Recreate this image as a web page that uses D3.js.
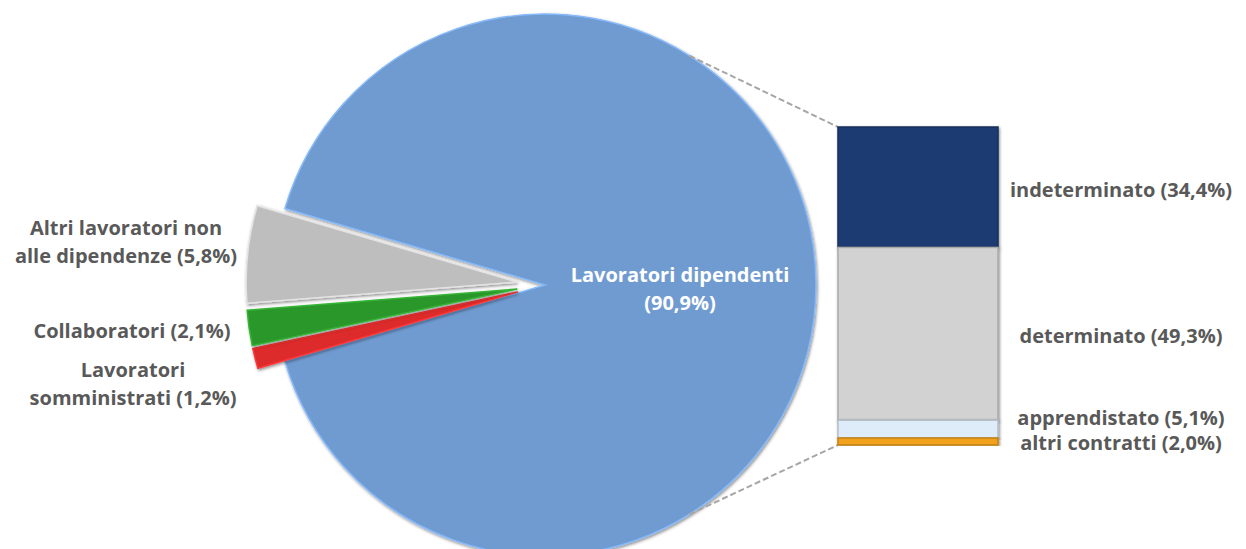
<!DOCTYPE html>
<html>
<head>
<meta charset="utf-8">
<script src="https://cdn.jsdelivr.net/npm/d3@7"></script>
<style>
  body { margin: 0; background: #fff; }
  text { font-family: "Open Sans", Lato, sans-serif; font-weight: 700; font-variant-ligatures: none; }
</style>
</head>
<body>
<svg id="chart" width="1246" height="549"></svg>
<script>
// pie: order goes clockwise from the top edge of the blue slice
const pieNames = ['Lavoratori dipendenti', 'Lavoratori somministrati', 'Collaboratori', 'Altri lavoratori non alle dipendenze'];
const pieValues = [90.9, 1.2, 2.1, 5.8];
const pieColors = ['#6f9bd1', '#dd2c2c', '#2c972c', '#bebebe'];

// bar: breakdown of the blue slice, top to bottom
const barNames = ['indeterminato', 'determinato', 'apprendistato', 'altri contratti'];
const barValues = [34.4, 49.3, 5.1, 2.0];
const barColors = ['#1f3a72', '#d2d2d2', '#deebf8', '#f2a11a'];

const it = d3.formatLocale({ decimal: ',', thousands: '.', grouping: [3], currency: ['€', ''] });
const pct = v => '(' + it.format('.1f')(v) + '%)';

let svg = d3.select('#chart');
let cx = 545, cy = 285, r = 271, explode = 28;

let defs = svg.append('defs');
let f = defs.append('filter').attr('id', 'shadow')
    .attr('x', '-10%').attr('y', '-10%').attr('width', '120%').attr('height', '120%');
f.append('feDropShadow').attr('dx', 1).attr('dy', 1.5).attr('stdDeviation', 1.5)
    .attr('flood-color', '#000').attr('flood-opacity', 0.45);

let total = d3.sum(pieValues);
let start = Math.PI / 2 - Math.PI * pieValues[0] / total;
let pie = d3.pie().sort(null).startAngle(start).endAngle(start + 2 * Math.PI);
let arcs = pie(pieValues);
let arc = d3.arc().innerRadius(0).outerRadius(r);

let g = svg.append('g').attr('transform', 'translate(' + cx + ',' + cy + ')');

g.selectAll('.slice')
    .data(arcs)
    .enter().append('path')
    .attr('class', 'slice')
    .attr('transform', (d, i) => {
        if (i === 0) return null;
        let mid = (d.startAngle + d.endAngle) / 2;
        return 'translate(' + (Math.sin(mid) * explode) + ',' + (-Math.cos(mid) * explode) + ')';
    })
    .attr('d', arc)
    .attr('fill', (d, i) => pieColors[i])
    .attr('stroke', (d, i) => d3.color(pieColors[i]).brighter(0.5))
    .attr('stroke-width', 1.5)
    .attr('filter', 'url(#shadow)');

// dashed connectors from the pie to the bar
let y = d3.scaleLinear().domain([0, d3.sum(barValues)]).range([127, 445]);
let barX = 838, barW = 160;
let ca = Math.atan2(145, 230);
[[ca, y(0)], [Math.PI - ca, y(d3.sum(barValues))]].forEach(p => {
    svg.append('line')
        .attr('x1', cx + Math.sin(p[0]) * r)
        .attr('y1', cy - Math.cos(p[0]) * r)
        .attr('x2', barX)
        .attr('y2', p[1])
        .attr('stroke', '#a6a6a6')
        .attr('stroke-width', 2)
        .attr('stroke-dasharray', '6,3');
});

let cum = d3.cumsum(barValues);
svg.selectAll('.seg')
    .data(barValues)
    .enter().append('rect')
    .attr('class', 'seg')
    .attr('x', barX)
    .attr('y', (d, i) => y(cum[i] - d))
    .attr('width', barW)
    .attr('height', d => y(d) - y(0))
    .attr('fill', (d, i) => barColors[i])
    .attr('stroke', (d, i) => d3.color(barColors[i]).darker(0.6))
    .attr('stroke-width', 1.5)
    .attr('filter', 'url(#shadow)');

// pie labels
let pieLabelPos = [
    { x: 680, y: [282, 310], lines: ['Lavoratori dipendenti'], fill: '#fff' },
    { x: 133, y: [377, 405], lines: ['Lavoratori', 'somministrati'], fill: '#595959' },
    { x: 132, y: [338], lines: ['Collaboratori'], fill: '#595959' },
    { x: 126, y: [235, 263], lines: ['Altri lavoratori non', 'alle dipendenze'], fill: '#595959' }
];
pieLabelPos.forEach((p, i) => {
    let lines = p.lines.slice();
    if (lines.length === p.y.length) lines[lines.length - 1] += ' ' + pct(pieValues[i]);
    else lines.push(pct(pieValues[i]));
    let t = svg.append('text').attr('text-anchor', 'middle').attr('fill', p.fill).style('font-size', '20px');
    lines.forEach((l, j) => t.append('tspan').attr('x', p.x).attr('y', p.y[j]).text(l));
});

// bar labels
let barLabelY = [197, 343, 425, 450];
svg.selectAll('.blab')
    .data(barValues)
    .enter().append('text')
    .attr('class', 'blab')
    .attr('x', 1121)
    .attr('y', (d, i) => barLabelY[i])
    .attr('text-anchor', 'middle')
    .attr('fill', '#595959')
    .style('font-size', '20px')
    .text((d, i) => barNames[i] + ' ' + pct(d));
</script>
</body>
</html>
